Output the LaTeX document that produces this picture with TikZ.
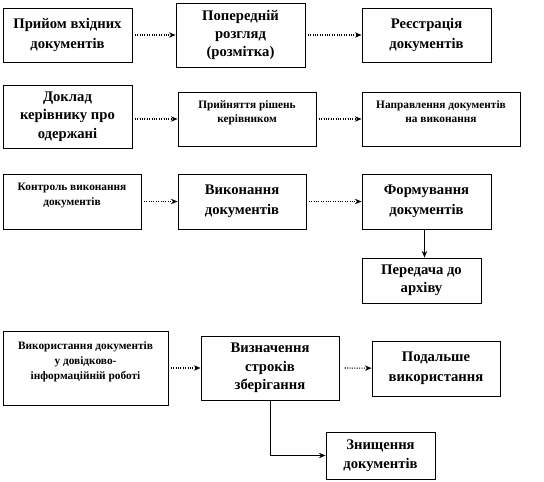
\documentclass[tikz,border=0pt]{standalone}
\usepackage{fontspec}
\setmainfont{Liberation Serif}
\usetikzlibrary{arrows.meta}
\begin{document}
\begin{tikzpicture}[x=0.75pt,y=-0.75pt,
  box/.style={draw,line width=0.6pt,align=center,inner sep=1pt,font=\bfseries\fontsize{11}{15}\selectfont},
  small/.style={font=\bfseries\fontsize{8.5}{11}\selectfont},
  flow/.style={densely dotted,line width=0.8pt,-{Stealth[length=5pt,width=4pt]}},
  down/.style={line width=0.6pt,-{Stealth[length=5pt,width=4pt]}}]
\useasboundingbox (0,0) rectangle (544,482);
\node[box,minimum width=96.75pt,minimum height=40.5pt] (priyom) at (67.5,35) {Прийом вхідних\\документів};
\node[box,minimum width=96.75pt,minimum height=48pt,font=\bfseries\fontsize{11}{13.5}\selectfont] (rozglyad) at (240.5,35) {Попередній\\розгляд\\(розмітка)};
\node[box,minimum width=96.75pt,minimum height=40.5pt] (reestr) at (426.5,35) {Реєстрація\\документів};
\node[box,minimum width=96.75pt,minimum height=47.25pt,font=\bfseries\fontsize{11}{14}\selectfont] (doklad) at (67.5,116.5) {Доклад\\керівнику про\\одержані};
\node[box,small,minimum width=103.5pt,minimum height=40.5pt] (rishennya) at (247,119) {Прийняття рішень\\керівником\\\mbox{}};
\node[box,small,minimum width=118.5pt,minimum height=40.5pt] (napr) at (441,119) {Направлення документів\\на виконання\\\mbox{}};
\node[box,small,minimum width=103.5pt,minimum height=41.25pt] (kontrol) at (72,201.5) {Контроль виконання\\документів\\\mbox{}};
\node[box,minimum width=96pt,minimum height=41.25pt] (vykon) at (242,201.5) {Виконання\\документів};
\node[box,minimum width=96.75pt,minimum height=41.25pt] (form) at (426.5,201.5) {Формування\\документів};
\node[box,minimum width=89.25pt,minimum height=33.75pt,font=\bfseries\fontsize{11}{13.5}\selectfont] (arkhiv) at (421.5,280.5) {Передача до\\архіву};
\node[box,small,minimum width=123.75pt,minimum height=55.5pt] (vykor) at (85.5,368) {Використання документів\\у довідково-\\інформаційній роботі\\\mbox{}};
\node[box,minimum width=103.5pt,minimum height=48pt,font=\bfseries\fontsize{11}{14}\selectfont] (strok) at (270,368) {Визначення\\строків\\зберігання};
\node[box,minimum width=96pt,minimum height=41.25pt] (podal) at (436,368.5) {Подальше\\використання};
\node[box,minimum width=81.75pt,minimum height=35.25pt,font=\bfseries\fontsize{11}{14}\selectfont] (znysch) at (380.5,455.5) {Знищення\\документів};
\draw[flow] (priyom) -- (rozglyad);
\draw[flow] (rozglyad) -- (reestr);
\draw[flow] (doklad.east |- rishennya) -- (rishennya);
\draw[flow] (rishennya) -- (napr);
\draw[flow] (kontrol) -- (vykon);
\draw[flow] (vykon) -- (form);
\draw[down] ([xshift=-1.5pt]form.south) -- ([xshift=-1.5pt]form.south |- arkhiv.north);
\draw[flow] (vykor) -- (strok);
\draw[flow] ([xshift=4pt]strok.east) -- (podal);
\draw[down] (strok.south) |- (znysch);
\end{tikzpicture}
\end{document}
